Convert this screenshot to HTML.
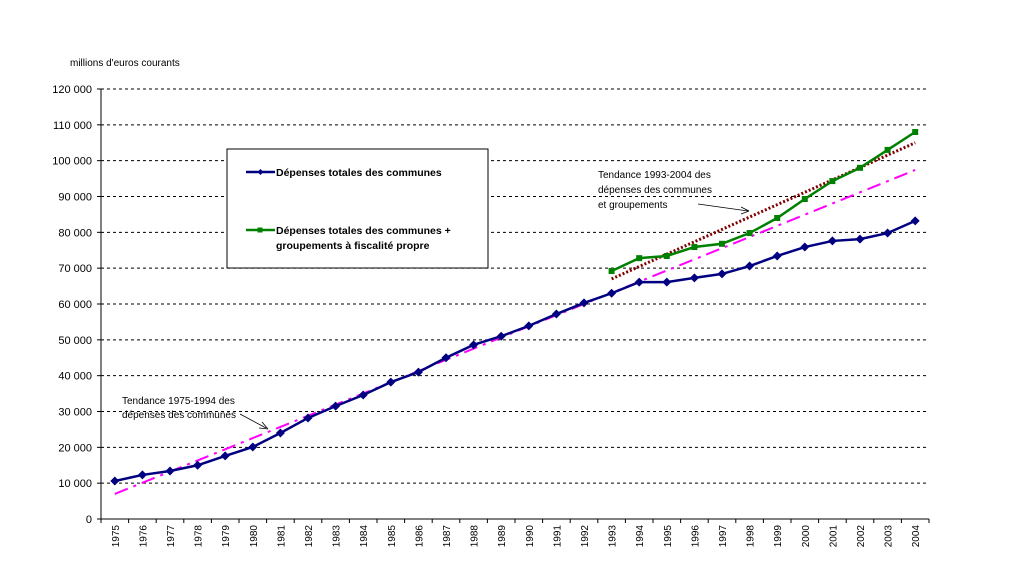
<!DOCTYPE html>
<html><head><meta charset="utf-8"><style>
body{margin:0;background:#fff;width:1019px;height:563px;overflow:hidden;font-family:"Liberation Sans",Arial,sans-serif}
svg text{font-family:"Liberation Sans",Arial,sans-serif}
</style></head><body>
<svg id="c" width="1019" height="563" xmlns="http://www.w3.org/2000/svg">
<text x="70" y="66" font-size="10">millions d'euros courants</text>
<g id="grid"></g><g id="axes"></g><g id="series"></g>
<g>
<rect x="227" y="149" width="261" height="119" fill="#fff" stroke="#000" stroke-width="1"/>
<line x1="246" y1="172" x2="275" y2="172" stroke="#000080" stroke-width="2.5"/>
<path d="M260.5 169 L263.5 172 L260.5 175 L257.5 172Z" fill="#000080"/>
<text x="276" y="176" font-size="10.5" font-weight="bold">Dépenses totales des communes</text>
<line x1="246" y1="230" x2="275" y2="230" stroke="#008000" stroke-width="2.5"/>
<rect x="257.5" y="227.5" width="5" height="5" fill="#008000"/>
<text x="276" y="234" font-size="10.5" font-weight="bold">Dépenses totales des communes +</text>
<text x="276" y="249" font-size="10.5" font-weight="bold">groupements à fiscalité propre</text>
</g>
<g font-size="10">
<text x="122" y="404">Tendance 1975-1994 des</text>
<text x="122" y="418">dépenses des communes</text>
<line x1="240" y1="414" x2="266" y2="428" stroke="#000" stroke-width="0.8"/>
<path d="M268 429 L259 428 M268 429 L262 422" stroke="#000" stroke-width="0.8" fill="none"/>
</g>
<g font-size="10">
<text x="598" y="178">Tendance 1993-2004 des</text>
<text x="598" y="193">dépenses des communes</text>
<text x="598" y="208">et groupements</text>
<line x1="698" y1="204" x2="748" y2="211" stroke="#000" stroke-width="0.8"/>
<path d="M749 211 L741 207 M749 211 L741 214" stroke="#000" stroke-width="0.8" fill="none"/>
</g>
</svg>
<script>
const years=[1975,1976,1977,1978,1979,1980,1981,1982,1983,1984,1985,1986,1987,1988,1989,1990,1991,1992,1993,1994,1995,1996,1997,1998,1999,2000,2001,2002,2003,2004];
const communes=[10600,12300,13400,15000,17600,20100,24000,28200,31500,34600,38200,41000,45000,48600,51000,53900,57200,60300,63000,66100,66100,67300,68400,70600,73400,75900,77600,78100,79800,83200];
const groupYears=[1993,1994,1995,1996,1997,1998,1999,2000,2001,2002,2003,2004];
const groupements=[69200,72800,73400,75900,76800,79800,84000,89300,94300,98000,103000,108000];
const trend1=[7000,97400];
const trend2=[67000,105000];
const yTicks=[0,10000,20000,30000,40000,50000,60000,70000,80000,90000,100000,110000,120000];
const yLabels=["0","10 000","20 000","30 000","40 000","50 000","60 000","70 000","80 000","90 000","100 000","110 000","120 000"];
const NS="http://www.w3.org/2000/svg";
const L=101,R=929,B=519,T=89,yMax=120000;
const bw=(R-L)/years.length;
const X=yr=>L+bw*(years.indexOf(yr)+0.5);
const Y=v=>B-(B-T)*v/yMax;
function mk(tag,attrs,parent){const e=document.createElementNS(NS,tag);for(const k in attrs)e.setAttribute(k,attrs[k]);parent.appendChild(e);return e;}
const grid=document.getElementById('grid'),axes=document.getElementById('axes'),ser=document.getElementById('series');
yTicks.forEach((v,i)=>{
 if(v>0){const g=mk('line',{x1:L,x2:R,y1:Y(v),y2:Y(v),stroke:'#000','stroke-width':1,'stroke-dasharray':'3,3'},grid);
 
 }
 mk('line',{x1:L-4,x2:L,y1:Y(v),y2:Y(v),stroke:'#000'},axes);
 const t=mk('text',{x:L-9,y:Y(v)+4,'font-size':11,'text-anchor':'end'},axes);t.textContent=yLabels[i];
 
 
});
mk('line',{x1:L,x2:L,y1:T,y2:B,stroke:'#000'},axes);
mk('line',{x1:L,x2:R,y1:B,y2:B,stroke:'#000'},axes);
years.forEach((yr,i)=>{
 const x=L+bw*i;mk('line',{x1:x,x2:x,y1:B,y2:B+4,stroke:'#000'},axes);
 const t=mk('text',{x:0,y:0,'font-size':10,'text-anchor':'end',transform:`translate(${X(yr)+4},${B+6}) rotate(-90)`},axes);
 t.textContent=yr;
 
 
});
mk('line',{x1:R,x2:R,y1:B,y2:B+4,stroke:'#000'},axes);
// trends
let t1=mk('line',{x1:X(1975),y1:Y(trend1[0]),x2:X(2004),y2:Y(trend1[1]),stroke:'#ff00ff','stroke-width':2,'stroke-dasharray':'14,6,3,6'},ser);


let t2=mk('line',{x1:X(1993),y1:Y(trend2[0]),x2:X(2004),y2:Y(trend2[1]),stroke:'#800000','stroke-width':3,'stroke-dasharray':'2,2'},ser);


// green
let gp=mk('polyline',{points:groupYears.map((y,i)=>X(y)+','+Y(groupements[i])).join(' '),fill:'none',stroke:'#008000','stroke-width':2.5},ser);


groupYears.forEach((y,i)=>{const m=mk('rect',{x:X(y)-3,y:Y(groupements[i])-3,width:6,height:6,fill:'#008000'},ser);
 
 });
// blue
let bp=mk('polyline',{points:years.map((y,i)=>X(y)+','+Y(communes[i])).join(' '),fill:'none',stroke:'#000080','stroke-width':2.5},ser);


years.forEach((y,i)=>{const x=X(y),yy=Y(communes[i]);const m=mk('path',{d:`M${x} ${yy-4.5} L${x+4.5} ${yy} L${x} ${yy+4.5} L${x-4.5} ${yy}Z`,fill:'#000080'},ser);
 
 });
</script>
</body></html>
